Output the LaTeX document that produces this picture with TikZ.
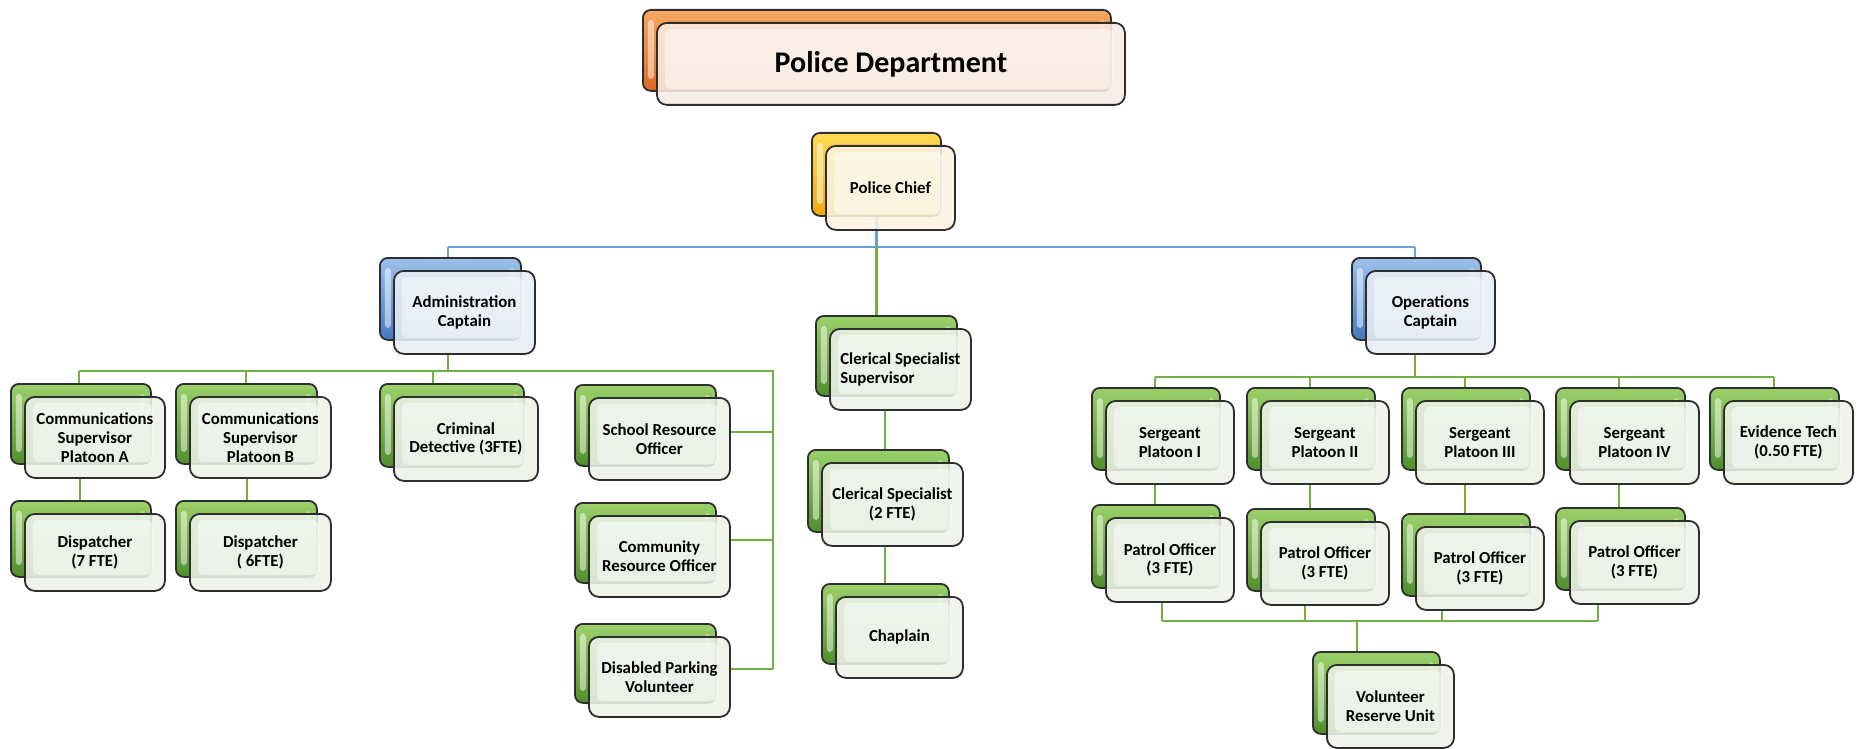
\documentclass[tikz,border=0pt]{standalone}
\usepackage{fontspec}
\setmainfont{Carlito}
\usetikzlibrary{backgrounds}

% palette
\definecolor{edge}{HTML}{2E2E2E}
\definecolor{gTop}{HTML}{9BD06A}
\definecolor{gBot}{HTML}{4F8F2C}
\definecolor{gFront}{HTML}{EDF2E9}
\definecolor{oTop}{HTML}{F8A862}
\definecolor{oBot}{HTML}{DA6A22}
\definecolor{oFront}{HTML}{F8ECE4}
\definecolor{yTop}{HTML}{FFDA55}
\definecolor{yBot}{HTML}{F0AA08}
\definecolor{yFront}{HTML}{FCF4E2}
\definecolor{bTop}{HTML}{9CC0EA}
\definecolor{bBot}{HTML}{4479C0}
\definecolor{bFront}{HTML}{E9EEF6}
\definecolor{lineBlue}{HTML}{6A9FD8}
\definecolor{lineGreen}{HTML}{72B043}

\newcommand\boxfont{\bfseries\fontsize{8.4}{9.4}\selectfont}

% one chart entry: a coloured card with a pale card in front of it
% #1 name, #2 x, #3 y, #4 width, #5 height, #6 colour, #7 front options, #8 text
\newcommand\orgunit[8]{%
  \node[back#6, minimum width=#4*0.5pt, minimum height=#5*0.5pt] (#1B) at (#2,#3) {};
  \node[front#6, minimum width=#4*0.5pt, minimum height=#5*0.5pt+0.5pt, #7] (#1)
       at ([xshift=7pt,yshift=-6.5pt]#1B.north west) {#8};
}

\tikzset{
  back/.style={draw=edge, line width=0.9pt, rounded corners=4pt, anchor=north west,
    inner sep=0pt,
    path picture={
      \fill[white,opacity=0.5,rounded corners=1.5pt]
        ([xshift=2.5pt,yshift=-5pt]path picture bounding box.north west) rectangle
        ([xshift=5.5pt,yshift=6pt]path picture bounding box.south west);
      \fill[white,opacity=0.35,rounded corners=1.5pt]
        ([xshift=-5.5pt,yshift=-5pt]path picture bounding box.north east) rectangle
        ([xshift=-3pt,yshift=-14pt]path picture bounding box.north east);
    }},
  backgreen/.style={back, top color=gTop, bottom color=gBot},
  backorange/.style={back, top color=oTop, bottom color=oBot},
  backyellow/.style={back, top color=yTop, bottom color=yBot},
  backblue/.style={back, top color=bTop, bottom color=bBot},
  front/.style={draw=edge, line width=0.9pt, rounded corners=5pt, anchor=north west,
    inner sep=1pt, align=center, font=\boxfont, fill opacity=0.88, text opacity=1,
    path picture={
      \fill[white,opacity=0.45,rounded corners=3pt]
        ([xshift=4pt,yshift=-3pt]path picture bounding box.north west) rectangle
        ([xshift=-6pt,yshift=8pt]path picture bounding box.south east);
    }},
  frontgreen/.style={front, fill=gFront},
  frontorange/.style={front, fill=oFront},
  frontyellow/.style={front, fill=yFront},
  frontblue/.style={front, fill=bFront},
  bluelink/.style={draw=lineBlue, line width=1.2pt},
  greenlink/.style={draw=lineGreen, line width=1.2pt},
}

\begin{document}
\begin{tikzpicture}[x=0.5pt,y=-0.5pt]
\useasboundingbox (0,0) rectangle (1868,749);

% top levels
\orgunit{pd}{642}{9}{468}{81}{orange}{font=\bfseries\fontsize{15}{17}\selectfont}{Police Department}
\orgunit{chief}{811}{132}{129}{83}{yellow}{}{Police Chief}
\orgunit{admin}{379}{257}{141}{82}{blue}{}{Administration\\Captain}
\orgunit{ops}{1351}{257}{129}{82}{blue}{}{Operations\\Captain}

% administration branch
\orgunit{commA}{10}{383}{140}{80}{green}{}{Communications\\Supervisor\\Platoon A}
\orgunit{commB}{175}{383}{141}{80}{green}{}{Communications\\Supervisor\\Platoon B}
\orgunit{dispA}{10}{500}{140}{76}{green}{}{Dispatcher\\(7 FTE)}
\orgunit{dispB}{175}{500}{141}{76}{green}{}{Dispatcher\\( 6FTE)}
\orgunit{crim}{379}{383}{144}{83}{green}{}{Criminal\\Detective (3FTE)}
\orgunit{school}{574}{384}{141}{81}{green}{}{School Resource\\Officer}
\orgunit{commun}{574}{502}{141}{80}{green}{}{Community\\Resource Officer}
\orgunit{parking}{574}{623}{141}{79}{green}{}{Disabled Parking\\Volunteer}

% clerical column
\orgunit{clersup}{815}{315}{141}{80}{green}{align=left}{Clerical Specialist\\Supervisor}
\orgunit{clertwo}{807}{449}{141}{82}{green}{}{Clerical Specialist\\(2 FTE)}
\orgunit{chap}{821}{583}{127}{80}{green}{}{Chaplain}

% operations branch
\orgunit{sgtA}{1091}{387}{128}{82}{green}{}{Sergeant\\Platoon I}
\orgunit{sgtB}{1246}{387}{128}{82}{green}{}{Sergeant\\Platoon II}
\orgunit{sgtC}{1401}{387}{128}{82}{green}{}{Sergeant\\Platoon III}
\orgunit{sgtD}{1555}{387}{129}{82}{green}{}{Sergeant\\Platoon IV}
\orgunit{evid}{1709}{387}{129}{82}{green}{}{Evidence Tech\\(0.50 FTE)}
\orgunit{patA}{1091}{504}{128}{83}{green}{}{Patrol Officer\\(3 FTE)}
\orgunit{patB}{1246}{508}{128}{82}{green}{}{Patrol Officer\\(3 FTE)}
\orgunit{patC}{1401}{513}{128}{82}{green}{}{Patrol Officer\\(3 FTE)}
\orgunit{patD}{1555}{507}{129}{82}{green}{}{Patrol Officer\\(3 FTE)}
\orgunit{vol}{1312}{651}{127}{82}{green}{}{Volunteer\\Reserve Unit}

\begin{scope}[on background layer]
  \fill[white] (0,0) rectangle (1868,749);

  % chief to captains
  \coordinate (busL) at (448,247);
  \coordinate (busR) at (1415,247);
  \draw[bluelink] (chiefB.south) -- (chiefB.south |- busL);
  \draw[bluelink] (busL) -- (busR);
  \draw[bluelink] (busL) -- (busL |- adminB.north);
  \draw[bluelink] (busR) -- (busR |- opsB.north);
  \draw[greenlink] (chiefB.south |- busL) -- (chiefB.south |- clersupB.north);

  % clerical chain
  \coordinate (cx) at (885,0);
  \draw[greenlink] (cx |- clersup.south) -- (cx |- clertwoB.north);
  \draw[greenlink] (cx |- clertwo.south) -- (cx |- chapB.north);

  % administration bus
  \coordinate (abL) at (79,371);
  \coordinate (abB) at (246,371);
  \coordinate (abC) at (433,371);
  \coordinate (abR) at (773,371);
  \coordinate (abEnd) at (773,669);
  \draw[greenlink] (busL |- admin.south) -- (busL |- abL);
  \draw[greenlink] (abL) -- (abR) -- (abEnd);
  \draw[greenlink] (abL) -- (abL |- commAB.north);
  \draw[greenlink] (abB) -- (abB |- commBB.north);
  \draw[greenlink] (abC) -- (abC |- crimB.north);
  \coordinate (stubA) at (773,432);
  \coordinate (stubB) at (773,540);
  \draw[greenlink] (stubA) -- (stubA -| school.east);
  \draw[greenlink] (stubB) -- (stubB -| commun.east);
  \draw[greenlink] (abEnd) -- (abEnd -| parking.east);
  \coordinate (dA) at (80,0);
  \coordinate (dB) at (247,0);
  \draw[greenlink] (dA |- commA.south) -- (dA |- dispAB.north);
  \draw[greenlink] (dB |- commB.south) -- (dB |- dispBB.north);

  % operations bus
  \coordinate (obA) at (1155,377);
  \coordinate (obB) at (1310,377);
  \coordinate (obC) at (1465,377);
  \coordinate (obD) at (1619,377);
  \coordinate (obE) at (1774,377);
  \draw[greenlink] (busR |- ops.south) -- (busR |- obA);
  \draw[greenlink] (obA) -- (obE);
  \draw[greenlink] (obA) -- (obA |- sgtAB.north);
  \draw[greenlink] (obB) -- (obB |- sgtBB.north);
  \draw[greenlink] (obC) -- (obC |- sgtCB.north);
  \draw[greenlink] (obD) -- (obD |- sgtDB.north);
  \draw[greenlink] (obE) -- (obE |- evidB.north);
  \draw[greenlink] (obA |- sgtA.south) -- (obA |- patAB.north);
  \draw[greenlink] (obB |- sgtB.south) -- (obB |- patBB.north);
  \draw[greenlink] (obC |- sgtC.south) -- (obC |- patCB.north);
  \draw[greenlink] (obD |- sgtD.south) -- (obD |- patDB.north);

  % patrol officers to volunteer reserve
  \coordinate (pbA) at (1162,621);
  \coordinate (pbB) at (1305,621);
  \coordinate (pbC) at (1442,621);
  \coordinate (pbD) at (1598,621);
  \coordinate (pbV) at (1357,621);
  \draw[greenlink] (pbA) -- (pbD);
  \draw[greenlink] (pbA) -- (pbA |- patA.south);
  \draw[greenlink] (pbB) -- (pbB |- patB.south);
  \draw[greenlink] (pbC) -- (pbC |- patC.south);
  \draw[greenlink] (pbD) -- (pbD |- patD.south);
  \draw[greenlink] (pbV) -- (pbV |- volB.north);
\end{scope}
\end{tikzpicture}
\end{document}
